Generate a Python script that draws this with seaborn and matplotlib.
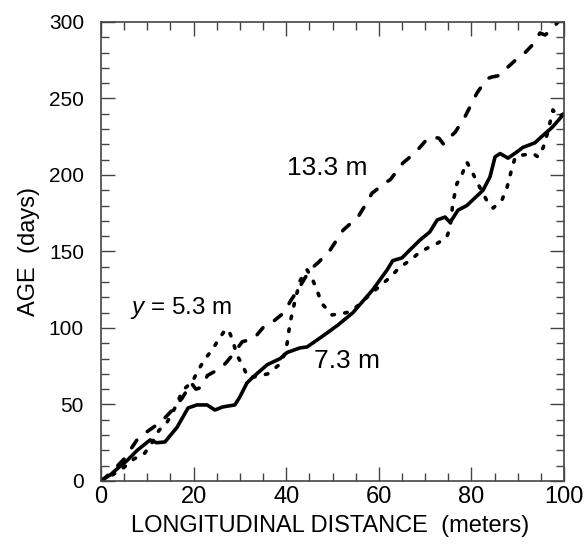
import matplotlib
matplotlib.use("Agg")
import matplotlib.pyplot as plt
from matplotlib.ticker import MultipleLocator
import seaborn as sns
import pandas as pd

# Age of water along the channel at three lateral positions y
dist_7_3 = [0, 2, 3.7, 5.5, 7.8, 10.6, 12, 13.8, 16.4, 18.8, 20.7, 22.9, 24.6,
            26.3, 28.9, 30, 31.5, 32.5, 34, 35.9, 38.7, 40.2, 43, 44.5, 46.6,
            48.8, 51.2, 54.4, 58.7, 61.8, 63, 65, 66.7, 68.9, 71, 72.6, 74.3,
            75.4, 77.1, 79, 82.5, 84, 85.1, 86.2, 87.9, 89.8, 91.1, 93.7, 95.5,
            97.4, 100]
age_7_3 = [0, 4, 8.5, 13, 20, 26.8, 25, 25.5, 35, 47.7, 49.7, 49.7, 46.4,
           48.4, 49.7, 55, 64, 67, 71, 76, 80, 84, 87, 87.6, 92,
           96.7, 102, 110, 125, 138, 144, 145.8, 151, 157.5, 162.7, 170.6, 172.5,
           169, 177, 180, 190, 198.7, 211.8, 214, 211, 215, 218, 221, 226,
           231, 240]

dist_13_3 = [0, 2, 5, 7.8, 8.9, 12, 13.4, 15.3, 16.6, 17.5, 19.5, 20.5, 21.5,
             23, 24.2, 26, 27.2, 28.3, 30.5, 31.7, 33, 35.2, 37.5, 39.5, 41,
             42.5, 45.1, 47, 49.5, 52.3, 55.5, 57, 58.5, 61.3, 62.5, 65.2, 68,
             70, 71.5, 73, 74, 75.4, 76.5, 78.6, 81.2, 83.4, 84.4, 86, 87.9,
             89.5, 91.6, 93.5, 94.8, 95.9, 97, 98.7, 100]
age_13_3 = [0, 5, 14.4, 27, 30, 36.6, 40, 46, 51, 54, 64, 60, 61,
            69, 71, 74, 78, 82, 91, 92, 93, 101, 105, 110, 118,
            124.8, 138, 143, 151, 164, 172.5, 180, 188, 194.7, 197, 207.8, 215,
            222, 225, 224, 220, 224.8, 228, 238, 253.6, 263, 264, 265, 270.6,
            275, 280, 286, 292.8, 291.5, 294, 300, 305]

dist_5_3 = [0, 2.5, 5, 7.1, 9.3, 11, 12.5, 14.3, 16, 17.7, 19.7, 21, 22.5, 24,
            25.3, 26.8, 27.5, 28.3, 29.4, 30.5, 31.7, 33, 36, 38.5, 39.5, 40.2,
            40.8, 41.9, 43, 44.5, 45.5, 46.6, 47.7, 49.9, 53, 54.4, 56, 58.5,
            62.4, 64.6, 66.7, 68.9, 71, 72.8, 74.7, 75.4, 76, 76.9, 77.5, 79,
            80, 81.2, 82.5, 83.6, 84.7, 86.6, 87.7, 88.8, 89.5, 91, 93.3, 94.4,
            95.5, 96.5, 97.6, 98.7, 100]
age_5_3 = [0, 4, 9, 14.4, 17.6, 25, 33, 38.6, 48, 59.5, 64.7, 72.5, 80, 85.6,
           92, 98.7, 99, 93, 82, 76, 68, 68, 70, 76, 82, 90,
           103, 118, 131, 138, 133, 125, 116, 108.5, 110, 111.8, 116, 123,
           133, 140, 144, 149.7, 153, 155.6, 159.5, 166, 181.7, 194.8, 196.7, 208.5,
           203, 195.4, 188, 181.7, 178.4, 183.7, 192, 205, 211.8, 213, 214, 211.8,
           218, 228, 242.5, 238, 240]

x_ticks = [0, 20, 40, 60, 80, 100]
y_ticks = [0, 50, 100, 150, 200, 250, 300]

sns.set_style("ticks")
plt.rcParams["font.family"] = ["Liberation Sans", "DejaVu Sans"]
plt.rcParams["mathtext.fontset"] = "custom"
plt.rcParams["mathtext.it"] = "Liberation Sans:italic"
plt.rcParams["mathtext.rm"] = "Liberation Sans"
plt.rcParams["text.color"] = "black"
plt.rcParams["axes.labelcolor"] = "black"

fig = plt.figure(figsize=(5.86, 5.48), dpi=100)
ax = fig.add_axes([0.1724, 0.1223, 0.7901, 0.8376])

lw = 2.6
frames = {
    "7.3": pd.DataFrame({"d": dist_7_3, "a": age_7_3}),
    "13.3": pd.DataFrame({"d": dist_13_3, "a": age_13_3}),
    "5.3": pd.DataFrame({"d": dist_5_3, "a": age_5_3}),
}
sns.lineplot(data=frames["7.3"], x="d", y="a", sort=False, estimator=None,
             color="black", lw=lw, ax=ax, solid_capstyle="round")
l2 = sns.lineplot(data=frames["13.3"], x="d", y="a", sort=False, estimator=None,
                  color="black", lw=lw, ax=ax).lines[-1]
l2.set_dashes([2.5, 3.8])
l2.set_dash_capstyle("round")
l3 = sns.lineplot(data=frames["5.3"], x="d", y="a", sort=False, estimator=None,
                  color="black", lw=lw, ax=ax).lines[-1]
l3.set_dashes([0.7, 2.9])
l3.set_dash_capstyle("round")

ax.set_xlim(0, 100)
ax.set_ylim(0, 300)
ax.set_xticks(x_ticks)
ax.set_yticks(y_ticks)
ax.xaxis.set_minor_locator(MultipleLocator(5))
ax.yaxis.set_minor_locator(MultipleLocator(10))
frame_col = "#444444"
ax.tick_params(which="both", direction="in", top=True, right=True,
               color=frame_col, labelcolor="black", width=1.0)
ax.tick_params(which="major", length=10)
ax.tick_params(which="minor", length=5.5)
ax.tick_params(axis="x", which="major", labelsize=17, pad=3.5)
ax.tick_params(axis="y", which="major", labelsize=15, pad=12.3)
for s in ax.spines.values():
    s.set_color(frame_col)
    s.set_linewidth(1.2)

ax.set_xlabel("LONGITUDINAL DISTANCE  (meters)", fontsize=17)
ax.set_ylabel("AGE  (days)", fontsize=17)
ax.xaxis.set_label_coords(0.494, -0.074)
ax.yaxis.set_label_coords(-0.132, 0.5)

ax.text(40.2, 200, "13.3 m", fontsize=19, va="baseline", ha="left")
ax.text(46, 74, "7.3 m", fontsize=19, va="baseline", ha="left")
ax.text(6.3, 109, r"$y$ = 5.3 m", fontsize=17.5, va="baseline", ha="left")

fig.savefig("out.png", dpi=100)
